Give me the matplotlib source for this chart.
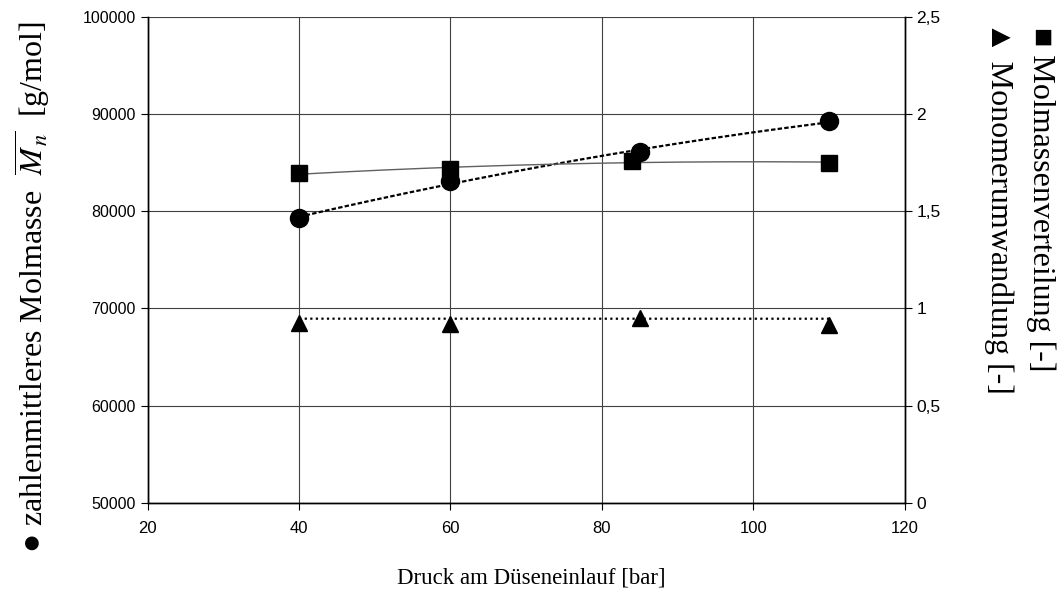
import numpy as np
import matplotlib
matplotlib.use("Agg")
import matplotlib.pyplot as plt
from matplotlib.ticker import FuncFormatter

plt.rcParams['mathtext.fontset'] = 'stix'

# Druck am Düseneinlauf [bar]
druck_mn = [40, 60, 85, 110]
mn = [79300, 83150, 86050, 89250]          # zahlenmittlere Molmasse [g/mol]

druck_pd = [40, 60, 84, 110]
pd_vert = [1.695, 1.715, 1.76, 1.75]        # Molmassenverteilung [-]

druck_x = [40, 60, 85, 110]
umw = [0.925, 0.92, 0.95, 0.915]            # Monomerumwandlung [-]

x_ticks = [20, 40, 60, 80, 100, 120]
left_ticks = [50000, 60000, 70000, 80000, 90000, 100000]
right_ticks = [0, 0.5, 1, 1.5, 2, 2.5]

fig = plt.figure(figsize=(10.63, 6.03), dpi=100)
ax = fig.add_axes([0.139, 0.166, 0.712, 0.806])
ax2 = ax.twinx()

tick_font = 'Liberation Sans'
lab_font = ['Liberation Serif', 'DejaVu Serif', 'DejaVu Sans']

# trendlines
xx = np.linspace(40, 110, 200)
c = np.polyfit(druck_mn, mn, 2)
ax.plot(xx, np.polyval(c, xx), color='black', lw=1.6, ls=(0, (2.0, 1.0)), zorder=3)
ax.plot(druck_mn, mn, 'o', color='black', ms=13, zorder=4)

c2 = np.polyfit(druck_pd, pd_vert, 2)
ax2.plot(xx, np.polyval(c2, xx), color='#606060', lw=1.0, zorder=3)
ax2.plot(druck_pd, pd_vert, 's', color='black', ms=11, zorder=4)

c3 = np.polyfit(druck_x, umw, 1)
ax2.plot(xx, np.polyval(c3, xx) + 0.02, color='black', lw=1.6, ls=(0, (1.0, 1.5)), zorder=3)
ax2.plot(druck_x, umw, '^', color='black', ms=11.5, zorder=4)

ax.set_xlim(20, 120)
ax.set_ylim(50000, 100000)
ax2.set_ylim(0, 2.5)
ax.set_xticks(x_ticks)
ax.set_yticks(left_ticks)
ax2.set_yticks(right_ticks)
ax2.yaxis.set_major_formatter(FuncFormatter(lambda v, p: ('%g' % v).replace('.', ',')))

ax.grid(True, color='#404040', lw=0.8)
ax.set_axisbelow(True)
for a in (ax, ax2):
    for s in a.spines.values():
        s.set_color('black')
        s.set_linewidth(1.0)
    a.tick_params(length=5, width=0.8, colors='black')
    for lab in a.get_xticklabels() + a.get_yticklabels():
        lab.set_fontfamily(tick_font)
ax.tick_params(axis='x', labelsize=12, pad=8)
ax.tick_params(axis='y', labelsize=11.5)
ax2.tick_params(axis='y', labelsize=12.5)
ax.spines['top'].set_visible(False)
ax2.spines['top'].set_visible(False)

fig.text(0.5, 0.041, 'Druck am Düseneinlauf [bar]', ha='center', va='center',
         fontsize=16.5, family=lab_font)
fig.text(0.03, 0.524, '\u25CF zahlenmittleres Molmasse  $\\overline{M_{\\,n}}$  [g/mol]',
         rotation=90, ha='center', va='center', fontsize=23, family=lab_font)
fig.text(0.979, 0.955, '\u25A0 Molmassenverteilung [-]', rotation=-90,
         ha='center', va='top', fontsize=23, family=lab_font)
fig.text(0.94, 0.965, '\u25B2 Monomerumwandlung [-]', rotation=-90,
         ha='center', va='top', fontsize=23, family=lab_font)

fig.savefig('out.png', dpi=100)
